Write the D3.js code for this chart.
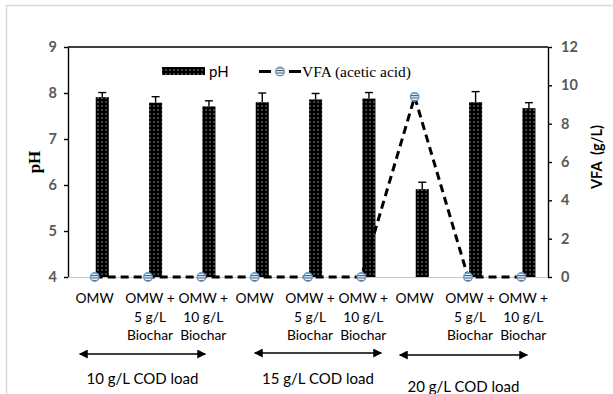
<!DOCTYPE html>
<html>
<head>
<meta charset="utf-8">
<script src="https://cdn.jsdelivr.net/npm/d3@7"></script>
<style>
  body { margin: 0; background: #fff; }
  svg { display: block; }
</style>
</head>
<body>
<script>
// Data
var categories = [
  ["OMW"], ["OMW +", "5 g/L", "Biochar"], ["OMW +", "10 g/L", "Biochar"],
  ["OMW"], ["OMW +", "5 g/L", "Biochar"], ["OMW +", "10 g/L", "Biochar"],
  ["OMW"], ["OMW +", "5 g/L", "Biochar"], ["OMW +", "10 g/L", "Biochar"]
];
var phValues = [7.91, 7.79, 7.71, 7.80, 7.86, 7.88, 5.91, 7.80, 7.67];
var phErrors = [0.10, 0.13, 0.12, 0.20, 0.13, 0.13, 0.15, 0.23, 0.12];
var vfaValues = [0, 0, 0, 0, 0, 0, 9.4, 0, 0];
var leftTicks = [4, 5, 6, 7, 8, 9];
var rightTicks = [0, 2, 4, 6, 8, 10, 12];
var groups = [
  { label: "10 g/L COD load", from: 0, to: 2 },
  { label: "15 g/L COD load", from: 3, to: 5 },
  { label: "20 g/L COD load", from: 6, to: 8 }
];

var W = 613, H = 394;
var plotL = 68, plotR = 548, plotT = 47, plotB = 277;

var svg = d3.select("body").append("svg")
  .attr("width", W)
  .attr("height", H);

svg.append("rect").attr("width", W).attr("height", H).attr("fill", "#fff");

// outer frame (only top and left edges visible)
svg.append("path")
  .attr("d", "M6.5," + H + "V5.5H" + W)
  .attr("fill", "none")
  .attr("stroke", "#d9d9d9")
  .attr("stroke-width", 1.5);

var defs = svg.append("defs");
var dots = defs.append("pattern")
  .attr("id", "dots")
  .attr("patternUnits", "userSpaceOnUse")
  .attr("width", 4)
  .attr("height", 4);
dots.append("rect").attr("width", 4).attr("height", 4).attr("fill", "#000");
dots.append("rect").attr("x", 1.5).attr("y", 1.5).attr("width", 1.1).attr("height", 1.1).attr("fill", "#fff").attr("opacity", 0.85);

var stripes = defs.append("pattern")
  .attr("id", "stripes")
  .attr("patternUnits", "userSpaceOnUse")
  .attr("width", 4)
  .attr("height", 2.5);
stripes.append("rect").attr("width", 4).attr("height", 2.5).attr("fill", "#e6ecf4");
stripes.append("rect").attr("y", 0).attr("width", 4).attr("height", 1).attr("fill", "#555");

// Scales
var x = d3.scaleBand()
  .domain(d3.range(categories.length))
  .range([plotL, plotR]);

var yL = d3.scaleLinear().domain([4, 9]).range([plotB, plotT]);
var yR = d3.scaleLinear().domain([0, 12]).range([plotB, plotT]);

function cx(i) { return x(i) + x.bandwidth() / 2; }
var barW = x.bandwidth() * 0.245;
var barOff = x.bandwidth() * 0.02;

// Axes
var axisL = svg.append("g")
  .attr("transform", "translate(" + plotL + ",0)")
  .call(d3.axisLeft(yL).tickValues(leftTicks).tickFormat(d3.format("d")).tickSize(4).tickSizeOuter(0).tickPadding(7));
var axisR = svg.append("g")
  .attr("transform", "translate(" + plotR + ",0)")
  .call(d3.axisRight(yR).tickValues(rightTicks).tickFormat(d3.format("d")).tickSize(4).tickSizeOuter(0).tickPadding(9));

[axisL, axisR].forEach(function (a) {
  a.select(".domain").attr("stroke", "#000").attr("stroke-width", 1.4);
  a.selectAll(".tick line").attr("stroke", "#000").attr("stroke-width", 1.4);
  a.selectAll(".tick text")
    .attr("fill", "#595959")
    .style("font-family", "Lato, sans-serif")
    .style("font-weight", "bold")
    .style("font-size", "14.5px");
});

// top line
svg.append("line")
  .attr("x1", plotL).attr("x2", plotR)
  .attr("y1", plotT).attr("y2", plotT)
  .attr("stroke", "#000").attr("stroke-width", 1.4);

// category axis
svg.append("line")
  .attr("x1", plotL).attr("x2", plotR)
  .attr("y1", plotB + 0.5).attr("y2", plotB + 0.5)
  .attr("stroke", "#c8c8c8").attr("stroke-width", 1.2);

// Bars
svg.selectAll(".bar")
  .data(phValues)
  .enter().append("rect")
  .attr("class", "bar")
  .attr("x", function (d, i) { return cx(i) + barOff; })
  .attr("y", function (d) { return yL(d); })
  .attr("width", barW)
  .attr("height", function (d) { return plotB - yL(d); })
  .attr("fill", "url(#dots)");

// Error bars (upper only)
var err = svg.selectAll(".err")
  .data(phValues)
  .enter().append("g")
  .attr("class", "err")
  .attr("stroke", "#000")
  .attr("stroke-width", 1.4);
err.append("line")
  .attr("x1", function (d, i) { return cx(i) + barOff + barW / 2; })
  .attr("x2", function (d, i) { return cx(i) + barOff + barW / 2; })
  .attr("y1", function (d) { return yL(d); })
  .attr("y2", function (d, i) { return yL(d + phErrors[i]); });
err.append("line")
  .attr("x1", function (d, i) { return cx(i) + barOff + barW / 2 - 4; })
  .attr("x2", function (d, i) { return cx(i) + barOff + barW / 2 + 4; })
  .attr("y1", function (d, i) { return yL(d + phErrors[i]); })
  .attr("y2", function (d, i) { return yL(d + phErrors[i]); });

// VFA line
var line = d3.line()
  .x(function (d, i) { return cx(i); })
  .y(function (d) { return yR(d); });

svg.append("path")
  .datum(vfaValues)
  .attr("d", line)
  .attr("fill", "none")
  .attr("stroke", "#000")
  .attr("stroke-width", 3)
  .attr("stroke-dasharray", "8,5");

svg.selectAll(".mk")
  .data(vfaValues)
  .enter().append("circle")
  .attr("class", "mk")
  .attr("cx", function (d, i) { return cx(i); })
  .attr("cy", function (d) { return yR(d); })
  .attr("r", 4.3)
  .attr("fill", "url(#stripes)")
  .attr("stroke", "#5b9bd5")
  .attr("stroke-width", 1.3);

// Category labels
var catG = svg.selectAll(".cat")
  .data(categories)
  .enter().append("text")
  .attr("class", "cat")
  .attr("text-anchor", "middle")
  .style("font-family", "Lato, sans-serif")
  .style("font-size", "13.8px")
  .attr("fill", "#000");
catG.selectAll("tspan")
  .data(function (d, i) { return d.map(function (t) { return { t: t, i: i }; }); })
  .enter().append("tspan")
  .attr("x", function (d) { return cx(d.i) + (d.t === "OMW" ? 0 : 2); })
  .attr("y", function (d, j) { return 303 + j * 18.5; })
  .text(function (d) { return d.t; });

// Group arrows and labels
defs.append("marker")
  .attr("id", "arrow")
  .attr("viewBox", "0 0 10 10")
  .attr("refX", 9).attr("refY", 5)
  .attr("markerWidth", 9).attr("markerHeight", 9)
  .attr("markerUnits", "userSpaceOnUse")
  .attr("orient", "auto-start-reverse")
  .append("path")
  .attr("d", "M0,0L10,5L0,10Z")
  .attr("fill", "#000");

var arrowY = [354, 353, 355];
var labelY = [384, 384, 392];
var arrowExt = [[-15, 4], [0, 20], [-15, 6]];

groups.forEach(function (g, k) {
  var x1 = cx(g.from) + arrowExt[k][0];
  var x2 = cx(g.to) + arrowExt[k][1];
  svg.append("line")
    .attr("x1", x1).attr("x2", x2)
    .attr("y1", arrowY[k]).attr("y2", arrowY[k])
    .attr("stroke", "#000").attr("stroke-width", 1.3)
    .attr("marker-start", "url(#arrow)")
    .attr("marker-end", "url(#arrow)");
  svg.append("text")
    .attr("x", (x1 + x2) / 2)
    .attr("y", labelY[k])
    .attr("text-anchor", "middle")
    .style("font-family", "Lato, sans-serif")
    .style("font-size", "15px")
    .text(g.label);
});

// Axis titles
svg.append("text")
  .attr("transform", "translate(40,162) rotate(-90)")
  .attr("text-anchor", "middle")
  .style("font-family", "'Liberation Serif', serif")
  .style("font-weight", "bold")
  .style("font-size", "17px")
  .text("pH");

svg.append("text")
  .attr("transform", "translate(602,157) rotate(-90)")
  .attr("text-anchor", "middle")
  .style("font-family", "Lato, sans-serif")
  .style("font-weight", "bold")
  .style("font-size", "14.5px")
  .attr("xml:space", "preserve")
  .text("VFA  (g/L)");

// Legend
svg.append("rect")
  .attr("x", 162).attr("y", 67)
  .attr("width", 43).attr("height", 8)
  .attr("fill", "url(#dots)");
svg.append("text")
  .attr("x", 209).attr("y", 77)
  .style("font-family", "Lato, sans-serif")
  .style("font-size", "15px")
  .text("pH");

svg.append("line")
  .attr("x1", 259).attr("x2", 301)
  .attr("y1", 71.5).attr("y2", 71.5)
  .attr("stroke", "#000").attr("stroke-width", 3)
  .attr("stroke-dasharray", "12,18");
svg.append("circle")
  .attr("cx", 280).attr("cy", 71.5).attr("r", 4.3)
  .attr("fill", "url(#stripes)")
  .attr("stroke", "#5b9bd5")
  .attr("stroke-width", 1.3);
svg.append("text")
  .attr("x", 302).attr("y", 77)
  .style("font-family", "'Liberation Serif', serif")
  .style("font-size", "15.5px")
  .text("VFA (acetic acid)");
</script>
</body>
</html>
